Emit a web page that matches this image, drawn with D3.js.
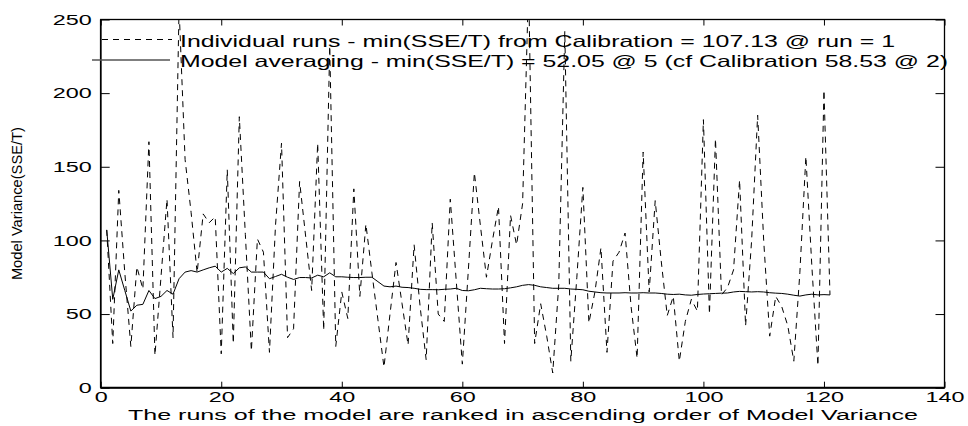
<!DOCTYPE html>
<html>
<head>
<meta charset="utf-8">
<script src="https://cdn.jsdelivr.net/npm/d3@7/dist/d3.min.js"></script>
<style>
  html, body { margin: 0; padding: 0; background: #fff; }
  svg { display: block; }
  text { font-family: "Liberation Sans", Arial, Helvetica, sans-serif; fill: #000; }
</style>
</head>
<body>
<svg id="chart" width="968" height="426"></svg>
<script>
// ---- data ----
const xTicks = [0, 20, 40, 60, 80, 100, 120, 140];
const yTicks = [0, 50, 100, 150, 200, 250];

const individualRuns = [
  107.13, 30, 134, 78, 28, 82, 67, 167, 22, 75,
  128, 34, 258, 155, 119, 78, 118, 112, 116, 23,
  148, 30, 184, 104, 25, 101, 92, 24, 110, 166,
  34, 40, 140, 103, 66, 166, 39, 232, 28, 65,
  47, 135, 62, 111, 78, 46, 14, 50, 85, 57,
  29, 97, 55, 19, 112, 50, 45, 128, 72, 16,
  80, 146, 110, 75, 100, 123, 30, 117, 97, 125,
  275, 30, 57, 35, 10, 70, 242, 18, 75, 136,
  44, 65, 95, 24, 86, 92, 105, 55, 20, 160,
  65, 127, 86, 49, 62, 18, 45, 60, 52, 182,
  50, 169, 63, 68, 80, 141, 42, 100, 185, 100,
  35, 62, 55, 42, 18, 78, 157, 82, 15, 202, 63
];

const modelAveraging = [
  107.13, 60, 80, 66, 52.05, 56, 56.6, 66, 60.5, 62,
  66, 63.5, 74, 78.5, 79.5, 78.5, 80, 81.4, 82.5, 78.5,
  81, 77.5, 81.4, 82, 78.5, 78.5, 78.5, 74, 75.5, 77,
  75, 73.5, 74.8, 74.8, 74.5, 76.4, 75.3, 78, 75.3, 75.3,
  75, 74.8, 74.8, 75, 75, 72, 69, 68.5, 69, 68.2,
  68, 67.5, 66.8, 66.6, 66.6, 66.5, 66.8, 67, 67.5, 66,
  65.8, 66.5, 67.5, 67.2, 67, 67, 67.2, 67.8, 68.5, 69.5,
  70, 69.5, 68.5, 68, 67.5, 67.5, 67.5, 67, 66.8, 66.5,
  65.5, 65, 64.5, 64.3, 64.3, 64.3, 64.5, 64.3, 64.3, 64.5,
  64.3, 64.3, 64, 63.5, 63.3, 63.5, 63, 62.8, 63.3, 63.6,
  63.8, 64, 64.2, 64.3, 65, 65.4, 65.2, 65, 65.2, 65,
  64.5, 64.2, 64, 63.5, 62.8, 62.2, 63, 63.5, 63, 63.2, 63
];

const legendLabels = [
  "Individual runs - min(SSE/T) from Calibration = 107.13 @ run = 1",
  "Model averaging - min(SSE/T) = 52.05 @ 5 (cf Calibration 58.53 @ 2)"
];
const xTitle = "The runs of the model are ranked in ascending order of Model Variance";
const yTitle = "Model Variance(SSE/T)";

// ---- layout ----
const L = 100.7, R = 944.5, T = 19.5, B = 387.7;
const svg = d3.select("#chart");

const x = d3.scaleLinear().domain([0, 140]).range([L, R]);
const y = d3.scaleLinear().domain([0, 250]).range([B, T]);

svg.append("defs").append("clipPath").attr("id", "plotClip")
  .append("rect").attr("x", L).attr("y", T).attr("width", R - L).attr("height", B - T);

const digitW = 13;

// axes with inward ticks
const gx = svg.append("g").attr("transform", `translate(0,${B})`)
  .call(d3.axisBottom(x).tickValues(xTicks).tickSizeInner(-6).tickSizeOuter(0).tickPadding(0));
gx.select(".domain").remove();
gx.selectAll("text")
  .attr("dy", null).attr("y", 14)
  .style("font-size", "14.5px")
  .attr("textLength", d => String(d).length * digitW)
  .attr("lengthAdjust", "spacingAndGlyphs");

const gxt = svg.append("g").attr("transform", `translate(0,${T})`)
  .call(d3.axisTop(x).tickValues(xTicks).tickSizeInner(-6).tickSizeOuter(0).tickFormat(""));
gxt.select(".domain").remove();

const gy = svg.append("g").attr("transform", `translate(${L},0)`)
  .call(d3.axisLeft(y).tickValues(yTicks).tickSizeInner(-9).tickSizeOuter(0).tickPadding(9));
gy.select(".domain").remove();
gy.selectAll("text")
  .style("font-size", "14.5px")
  .attr("textLength", d => String(d).length * digitW)
  .attr("lengthAdjust", "spacingAndGlyphs");

const gyr = svg.append("g").attr("transform", `translate(${R},0)`)
  .call(d3.axisRight(y).tickValues(yTicks).tickSizeInner(-9).tickSizeOuter(0).tickFormat(""));
gyr.select(".domain").remove();

svg.selectAll(".tick line").attr("stroke", "#000").attr("stroke-width", 1);
svg.selectAll(".tick text").attr("fill", "#000").style("font-family", '"Liberation Sans", Arial, sans-serif');

// box
svg.append("rect").attr("x", L).attr("y", T).attr("width", R - L).attr("height", B - T)
  .attr("fill", "none").attr("stroke", "#000").attr("stroke-width", 1.3);
svg.append("line").attr("x1", L).attr("x2", R).attr("y1", B).attr("y2", B)
  .attr("stroke", "#000").attr("stroke-width", 2);
svg.append("line").attr("x1", L).attr("x2", L).attr("y1", T).attr("y2", B)
  .attr("stroke", "#000").attr("stroke-width", 1.6);

// lines
const line = d3.line().x((d, i) => x(i + 1)).y(d => y(d));
const plot = svg.append("g").attr("clip-path", "url(#plotClip)");
plot.append("path").datum(individualRuns).attr("d", line)
  .attr("fill", "none").attr("stroke", "#000").attr("stroke-width", 1)
  .attr("stroke-dasharray", "6,5");
plot.append("path").datum(modelAveraging).attr("d", line)
  .attr("fill", "none").attr("stroke", "#000").attr("stroke-width", 1);

// legend
svg.append("line").attr("x1", 102).attr("x2", 172).attr("y1", 39.5).attr("y2", 39.5)
  .attr("stroke", "#000").attr("stroke-width", 1).attr("stroke-dasharray", "6,5");
svg.append("line").attr("x1", 92).attr("x2", 170).attr("y1", 60).attr("y2", 60)
  .attr("stroke", "#555").attr("stroke-width", 1.3);
svg.append("text").attr("x", 180).attr("y", 46.5).style("font-size", "16.5px")
  .attr("textLength", 715).attr("lengthAdjust", "spacingAndGlyphs").text(legendLabels[0]);
svg.append("text").attr("x", 180).attr("y", 66.5).style("font-size", "16.5px")
  .attr("textLength", 768).attr("lengthAdjust", "spacingAndGlyphs").text(legendLabels[1]);

// axis titles
svg.append("text").attr("x", 128).attr("y", 420).style("font-size", "15.5px")
  .attr("textLength", 790).attr("lengthAdjust", "spacingAndGlyphs").text(xTitle);
svg.append("text").attr("transform", `translate(22,${(T + B) / 2}) rotate(-90)`)
  .attr("text-anchor", "middle").style("font-size", "14.5px")
  .attr("textLength", 153).attr("lengthAdjust", "spacingAndGlyphs").text(yTitle);
</script>
</body>
</html>
